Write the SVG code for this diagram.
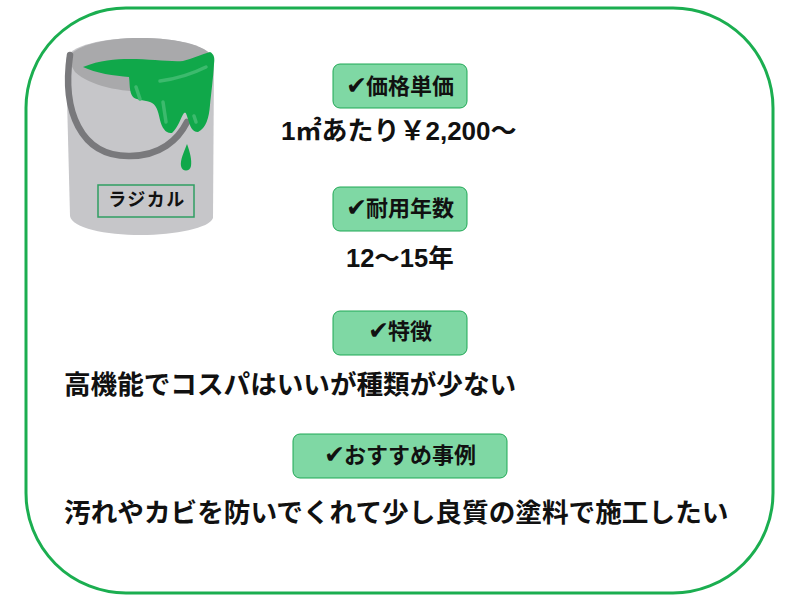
<svg xmlns="http://www.w3.org/2000/svg" width="800" height="600" viewBox="0 0 800 600">
<style>
text{font-family:"Liberation Sans","Noto Sans CJK JP",sans-serif;font-weight:700;fill:#111;}
.tag rect{fill:#7fd8a4;stroke:#1fa855;stroke-width:1;}
.h{font-size:22px;}
.c{font-family:"DejaVu Sans",sans-serif;font-size:25px;}
</style>
<rect width="800" height="600" fill="#fff"/>
<rect id="frame" x="26" y="8" width="747" height="585" rx="100" ry="100" fill="#fff" stroke="#1bae50" stroke-width="3"/>
<g id="bucket">
<path d="M66 60C68 45 105 38 140 38C178 38 212 46 214 62L213 218C210 228 175 235 141 235C105 235 72 228 70 216Z" fill="#c6c6c9"/>
<path d="M68 60C70 46 105 38 140 38C178 38 212 46 213 60L211 80L150 92C120 92 90 86 75 72Z" fill="#a9a9ab"/>
<path d="M70 55C62 110 80 157 130 156C160 156 178 140 187 122" fill="none" stroke="#79797c" stroke-width="6.5" stroke-linecap="round"/>
<path d="M83 67C100 60 115 59 130 59C150 59 170 62 183 61C192 59 202 54 210 52C214 54 215 58 214 64C213 80 211 95 210 105C209 118 206 128 198 132C192 132 190 126 188 119C186 113 186 112 184 113C181 117 178 128 172 133C166 134 162 128 160 120C158 110 156 104 150 102C143 100 136 100 133 97C129 92 130 84 129 77C115 76 95 73 83 67Z" fill="#10a84a"/>
<path d="M160 81C175 79 190 75 206 67" fill="none" stroke="#3cba6d" stroke-width="3.5" stroke-linecap="round"/>
<path d="M136 87L140 99M163 102L166 122M194 116L196 122" fill="none" stroke="#3cba6d" stroke-width="3.5" stroke-linecap="round"/>
<path d="M187 144C190 152 192 160 191 166C190 172 182 172 181 166C180 160 184 152 187 144Z" fill="#10a84a"/>
</g>
<g id="product-label">
<rect x="98" y="185" width="96" height="32" fill="none" stroke="#2f9e62" stroke-width="1.5"/>
<text x="147" y="206" font-size="18" text-anchor="middle" letter-spacing="1.5">ラジカル</text>
</g>
<g id="price" class="tag">
<rect x="333" y="64" width="134" height="44" rx="7"/>
<text class="h" y="94"><tspan class="c" x="346">✔</tspan><tspan x="366">価格単価</tspan></text>
</g>
<text x="281" y="140" font-size="26">1㎡あたり￥2,200～</text>
<g id="life" class="tag">
<rect x="333" y="187" width="134" height="44" rx="7"/>
<text class="h" y="216"><tspan class="c" x="346">✔</tspan><tspan x="366">耐用年数</tspan></text>
</g>
<text x="346" y="267" font-size="25.5">12～15年</text>
<g id="feature" class="tag">
<rect x="333" y="311" width="134" height="44" rx="7"/>
<text class="h" y="339"><tspan class="c" x="368">✔</tspan><tspan x="388">特徴</tspan></text>
</g>
<text x="64" y="394" font-size="26.6">高機能でコスパはいいが種類が少ない</text>
<g id="case" class="tag">
<rect x="293" y="434" width="214" height="44" rx="7"/>
<text class="h" y="463"><tspan class="c" x="324">✔</tspan><tspan x="344">おすすめ事例</tspan></text>
</g>
<text x="64" y="522" font-size="26.65">汚れやカビを防いでくれて少し良質の塗料で施工したい</text>
</svg>
